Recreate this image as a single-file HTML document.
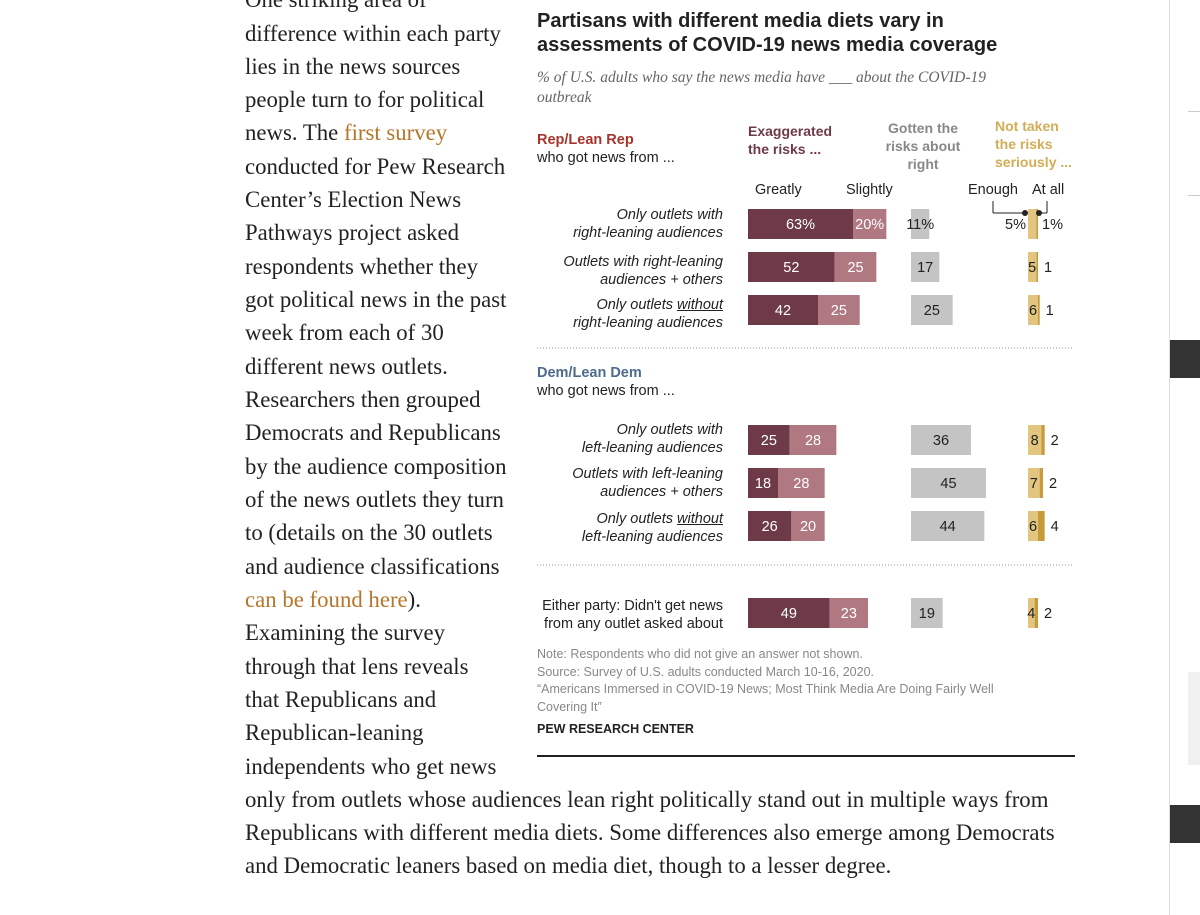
<!DOCTYPE html>
<html><head><meta charset="utf-8"><style>
body{margin:0;width:1200px;height:915px;background:#fff;position:relative;overflow:hidden;font-family:"Liberation Sans",sans-serif}
.t{position:absolute;white-space:nowrap}
.p{position:absolute;left:245px;font-family:"Liberation Serif",serif;font-size:22.8px;color:#222;white-space:nowrap;line-height:33px}
.lab{position:absolute;right:477px;text-align:right;font-size:14.5px;color:#222;line-height:18px;font-style:italic}
.lab.n{font-style:normal}
a{color:#b5762a;text-decoration:none}
</style></head><body>
<div id="article">
<div class="p" style="top:-17px">One striking area of</div>
<div class="p" style="top:17px">difference within each party</div>
<div class="p" style="top:50px">lies in the news sources</div>
<div class="p" style="top:83px">people turn to for political</div>
<div class="p" style="top:116px">news. The <a>first survey</a></div>
<div class="p" style="top:150px">conducted for Pew Research</div>
<div class="p" style="top:183px">Center’s Election News</div>
<div class="p" style="top:216px">Pathways project asked</div>
<div class="p" style="top:250px">respondents whether they</div>
<div class="p" style="top:283px">got political news in the past</div>
<div class="p" style="top:316px">week from each of 30</div>
<div class="p" style="top:350px">different news outlets.</div>
<div class="p" style="top:383px">Researchers then grouped</div>
<div class="p" style="top:416px">Democrats and Republicans</div>
<div class="p" style="top:450px">by the audience composition</div>
<div class="p" style="top:483px">of the news outlets they turn</div>
<div class="p" style="top:516px">to (details on the 30 outlets</div>
<div class="p" style="top:550px">and audience classifications</div>
<div class="p" style="top:583px"><a>can be found here</a>).</div>
<div class="p" style="top:616px">Examining the survey</div>
<div class="p" style="top:650px">through that lens reveals</div>
<div class="p" style="top:683px">that Republicans and</div>
<div class="p" style="top:716px">Republican-leaning</div>
<div class="p" style="top:750px">independents who get news</div>
<div class="p" style="top:783px">only from outlets whose audiences lean right politically stand out in multiple ways from</div>
<div class="p" style="top:816px">Republicans with different media diets. Some differences also emerge among Democrats</div>
<div class="p" style="top:849px">and Democratic leaners based on media diet, though to a lesser degree.</div>
</div>

<div>
<div style="position:absolute;left:1169px;top:0;width:1px;height:915px;background:#ddd"></div>
<div style="position:absolute;left:1188px;top:111px;width:12px;height:1px;background:#ccc"></div>
<div style="position:absolute;left:1188px;top:195px;width:12px;height:1px;background:#ccc"></div>
<div style="position:absolute;left:1170px;top:340px;width:30px;height:38px;background:#333"></div>
<div style="position:absolute;left:1188px;top:672px;width:12px;height:93px;background:#f0f0f0"></div>
<div style="position:absolute;left:1170px;top:805px;width:30px;height:38px;background:#333"></div>
</div>

<div class="t" style="left:537px;top:9px;font-size:20px;font-weight:bold;color:#222;line-height:24px">Partisans with different media diets vary in<br>assessments of COVID-19 news media coverage</div>
<div class="t" style="left:537px;top:68px;font-family:'Liberation Serif',serif;font-style:italic;font-size:15.5px;color:#666;line-height:20px">% of U.S. adults who say the news media have ___ about the COVID-19<br>outbreak</div>

<div class="t" style="left:537px;top:131px;font-size:14.5px;line-height:18px;color:#222"><b style="color:#a5352c">Rep/Lean Rep</b><br>who got news from ...</div>
<div class="t" style="left:537px;top:364px;font-size:14.5px;line-height:18px;color:#222"><b style="color:#4d6a8a">Dem/Lean Dem</b><br>who got news from ...</div>

<div class="t" style="left:748px;top:122px;font-size:14px;font-weight:bold;line-height:18px;color:#6e3a47">Exaggerated<br>the risks ...</div>
<div class="t" style="left:880px;top:119px;width:86px;text-align:center;font-size:14px;font-weight:bold;line-height:18px;color:#888">Gotten the<br>risks about<br>right</div>
<div class="t" style="left:995px;top:117px;font-size:14px;font-weight:bold;line-height:18px;color:#d3ad55">Not taken<br>the risks<br>seriously ...</div>
<div class="t" style="left:755px;top:182px;font-size:14.5px;color:#222">Greatly</div>
<div class="t" style="left:846px;top:182px;font-size:14.5px;color:#222">Slightly</div>
<div class="t" style="left:968px;top:182px;font-size:14.5px;color:#222">Enough</div>
<div class="t" style="left:1032px;top:182px;font-size:14.5px;color:#222">At all</div>

<div>
<div class="lab" style="top:206px">Only outlets with<br>right-leaning audiences</div>
<div class="lab" style="top:253px">Outlets with right-leaning<br>audiences + others</div>
<div class="lab" style="top:296px">Only outlets <u>without</u><br>right-leaning audiences</div>
<div class="lab" style="top:421px">Only outlets with<br>left-leaning audiences</div>
<div class="lab" style="top:465px">Outlets with left-leaning<br>audiences + others</div>
<div class="lab" style="top:510px">Only outlets <u>without</u><br>left-leaning audiences</div>
<div class="lab n" style="top:597px">Either party: Didn't get news<br>from any outlet asked about</div>
</div>

<div class="t" style="left:537px;top:646px;font-size:12.5px;color:#888;line-height:17.5px">Note: Respondents who did not give an answer not shown.<br>Source: Survey of U.S. adults conducted March 10-16, 2020.<br>“Americans Immersed in COVID-19 News; Most Think Media Are Doing Fairly Well<br>Covering It”</div>
<div class="t" style="left:537px;top:722px;font-size:12.5px;font-weight:bold;color:#222">PEW RESEARCH CENTER</div>
<div style="position:absolute;left:537px;top:755px;width:538px;height:2px;background:#222"></div>

<svg id="chart" width="1200" height="915" style="position:absolute;left:0;top:0" font-family="Liberation Sans, sans-serif" font-size="14.5"></svg>
<script>
const rowsY = [224, 267, 310, 440, 483, 526, 613];
const greatly = [63, 52, 42, 25, 18, 26, 49];
const slightly = [20, 25, 25, 28, 28, 20, 23];
const aboutRight = [11, 17, 25, 36, 45, 44, 19];
const enough = [5, 5, 6, 8, 7, 6, 4];
const atAll = [1, 1, 1, 2, 2, 4, 2];
const S = 1.667;
const x0 = 748, xg = 911, xy = 1028, bh = 30;
const svg = document.getElementById('chart');
const NS = 'http://www.w3.org/2000/svg';
function rect(x,y,w,h,fill,name){const r=document.createElementNS(NS,'rect');r.setAttribute('x',x);r.setAttribute('y',y);r.setAttribute('width',w);r.setAttribute('height',h);r.setAttribute('fill',fill);


svg.appendChild(r);return r;}
function text(x,y,s,fill,anchor,name){const t=document.createElementNS(NS,'text');t.setAttribute('x',x);t.setAttribute('y',y);t.setAttribute('fill',fill);t.setAttribute('text-anchor',anchor);t.textContent=s;


svg.appendChild(t);}
function line(x1,y1,x2,y2,c,dash,name){const l=document.createElementNS(NS,'line');l.setAttribute('x1',x1);l.setAttribute('y1',y1);l.setAttribute('x2',x2);l.setAttribute('y2',y2);l.setAttribute('stroke',c);if(dash)l.setAttribute('stroke-dasharray',dash);


svg.appendChild(l);}
rowsY.forEach((cy,i)=>{
  const y=cy-bh/2, p=i===0?'%':'';
  const wg=greatly[i]*S, ws=slightly[i]*S;
  rect(x0,y,wg,bh,'#6e3a47','bar-greatly');
  rect(x0+wg,y,ws,bh,'#b07880','bar-slightly');
  text(x0+wg/2,cy+5,greatly[i]+p,'#fff','middle','value-greatly');
  text(x0+wg+ws/2,cy+5,slightly[i]+p,'#fff','middle','value-slightly');
  const wa=aboutRight[i]*S;
  rect(xg,y,wa,bh,'#c4c4c4','bar-about-right');
  text(xg+wa/2,cy+5,aboutRight[i]+p,'#222','middle','value-about-right');
  const we=enough[i]*S, wl=atAll[i]*S;
  rect(xy,y,we,bh,'#e2c57f','bar-enough');
  rect(xy+we,y,wl,bh,'#c79a3c','bar-at-all');
  if(i===0){
    text(xy-2,cy+5,enough[i]+'%','#222','end','value-enough');
    text(xy+we+wl+4,cy+5,atAll[i]+'%','#222','start','value-at-all');
  } else {
    text(xy+we/2,cy+5,enough[i],'#222','middle','value-enough');
    text(xy+we+wl+10,cy+5,atAll[i],'#222','middle','value-at-all');
  }
});
line(537,348,1072,348,'#999','1,2','divider-rep-dem');
line(537,565,1072,565,'#999','1,2','divider-dem-either');
line(993,201,993,213,'#222',null,'callout-enough');
line(993,213,1025,213,'#222',null,'callout-enough');
line(1047,201,1047,213,'#222',null,'callout-at-all');
line(1040,213,1047,213,'#222',null,'callout-at-all');
[1025,1039].forEach(cx=>{const c=document.createElementNS(NS,'circle');c.setAttribute('cx',cx);c.setAttribute('cy',213);c.setAttribute('r',3);c.setAttribute('fill','#222');


svg.appendChild(c);});
</script>
</body></html>
